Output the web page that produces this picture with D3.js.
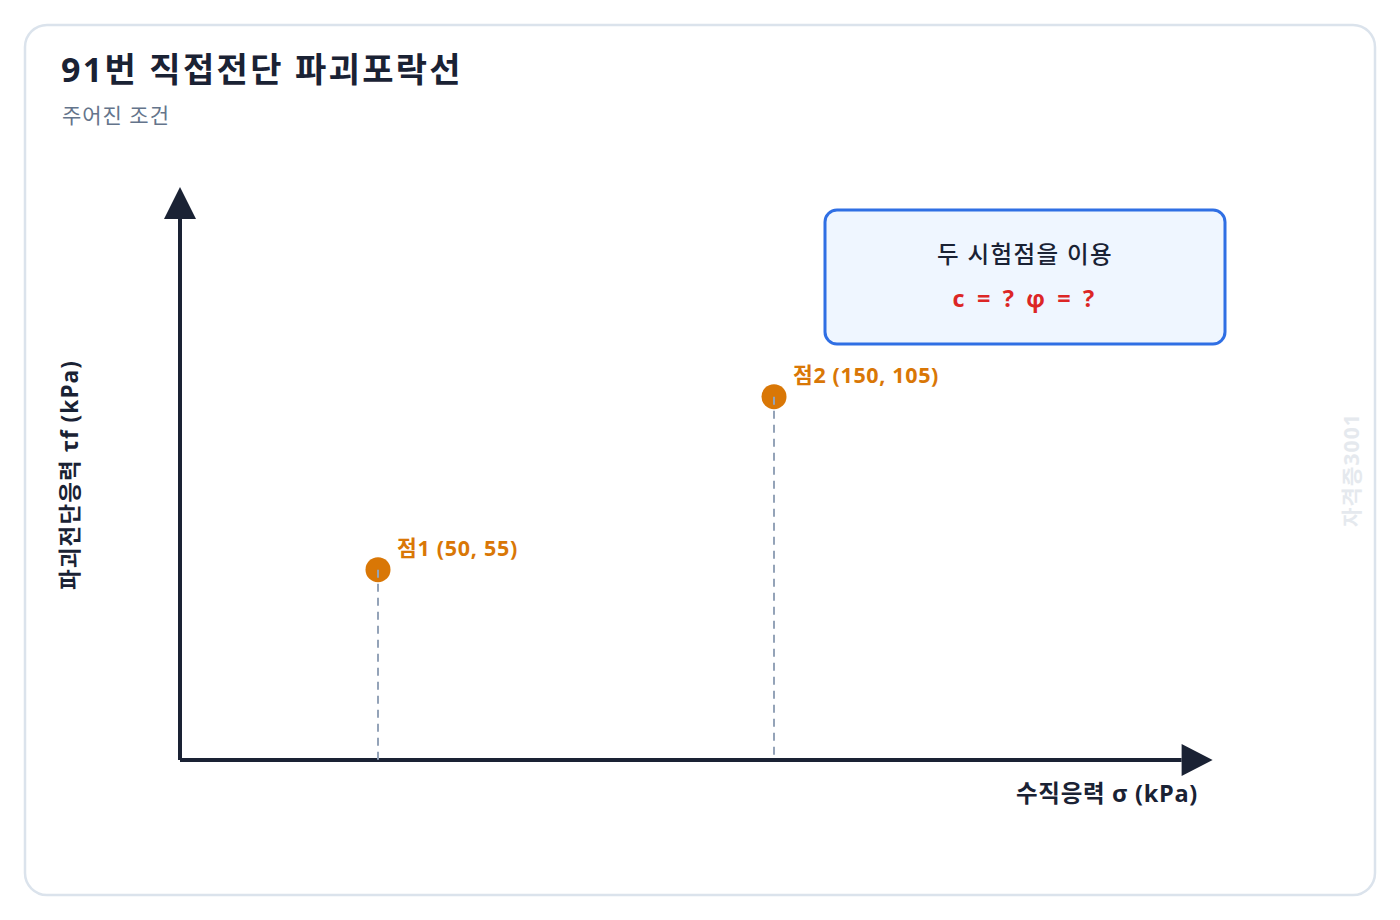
<!DOCTYPE html>
<html>
<head>
<meta charset="utf-8">
<script src="https://cdn.jsdelivr.net/npm/d3@7"></script>
<style>
  html, body { margin: 0; padding: 0; background: #fff; }
  svg { display: block; }
</style>
</head>
<body>
<div id="chart"></div>
<script>
// ── Data ─────────────────────────────────────────────────────────────────────
const pointNames  = ['점1', '점2'];
const sigmaValues = [50, 150];   // 수직응력 σ (kPa)
const tauValues   = [55, 105];   // 파괴전단응력 τf (kPa)

const titleText    = '91번 직접전단 파괴포락선';
const subtitleText = '주어진 조건';
const xLabelText   = '수직응력 σ (kPa)';
const yLabelText   = '파괴전단응력 τf (kPa)';
const boxLines     = ['두 시험점을 이용', 'c = ? φ = ?'];
const watermark    = '자격증3001';

// ── Layout ───────────────────────────────────────────────────────────────────
const W = 1400, H = 920;
const FONT = '"Open Sans", "Noto Sans CJK KR", sans-serif';
const INK = '#1a2234';
const ORANGE = '#d97706';

const svg = d3.select('#chart').append('svg')
  .attr('width', W).attr('height', H);

// stretch a text's letter spacing so it spans roughly the wanted width
function fit(sel, target) {
  const node = sel.node();
  const n = node.textContent.length;
  const w = node.getComputedTextLength();
  if (n > 1) sel.attr('letter-spacing', ((target - w) / n).toFixed(2));
  return sel;
}

// card
svg.append('rect')
  .attr('x', 25).attr('y', 25).attr('width', 1350).attr('height', 870)
  .attr('rx', 22).attr('fill', '#fff')
  .attr('stroke', '#dbe3ec').attr('stroke-width', 2.5);

fit(svg.append('text')
  .attr('x', 61).attr('y', 82)
  .attr('font-family', FONT).attr('font-size', 34).attr('font-weight', 700)
  .attr('fill', INK).text(titleText), 402);

fit(svg.append('text')
  .attr('x', 62).attr('y', 123)
  .attr('font-family', FONT).attr('font-size', 21)
  .attr('fill', '#64748b').text(subtitleText), 108);

// ── Scales ───────────────────────────────────────────────────────────────────
const x = d3.scaleLinear().domain([0, 260]).range([180, 180 + 260 * 3.96]);
const y = d3.scaleLinear().domain([0, 165]).range([760, 760 - 165 * 3.46]);

const [x0, x1] = x.range();
const [y0, y1] = y.range();

// axes
svg.append('line')
  .attr('x1', x0).attr('y1', y0).attr('x2', x0).attr('y2', y1 + 30)
  .attr('stroke', INK).attr('stroke-width', 4);
svg.append('path')
  .attr('d', `M${x0},${y1 - 2} L${x0 - 16},${y1 + 30} L${x0 + 16},${y1 + 30} Z`)
  .attr('fill', INK);

svg.append('line')
  .attr('x1', x0).attr('y1', y0).attr('x2', x1 - 28).attr('y2', y0)
  .attr('stroke', INK).attr('stroke-width', 4);
svg.append('path')
  .attr('d', `M${x1 + 3},${y0} L${x1 - 28},${y0 - 16} L${x1 - 28},${y0 + 16} Z`)
  .attr('fill', INK);

// axis labels
fit(svg.append('text')
  .attr('x', 1198).attr('y', 802)
  .attr('text-anchor', 'end')
  .attr('font-family', FONT).attr('font-size', 23.5).attr('font-weight', 700)
  .attr('fill', INK).text(xLabelText), 182);

fit(svg.append('text')
  .attr('transform', 'translate(78, 475) rotate(-90)')
  .attr('text-anchor', 'middle')
  .attr('font-family', FONT).attr('font-size', 22.5).attr('font-weight', 700)
  .attr('fill', INK).text(yLabelText), 230);

// ── Points ───────────────────────────────────────────────────────────────────
const pts = pointNames.map((n, i) => ({ name: n, s: sigmaValues[i], t: tauValues[i] }));
const labelW = [121, 146];

const g = svg.append('g');
pts.forEach((d, i) => {
  g.append('circle')
    .attr('cx', x(d.s)).attr('cy', y(d.t)).attr('r', 12.5)
    .attr('fill', ORANGE);
  g.append('line')
    .attr('x1', x(d.s)).attr('y1', y(d.t)).attr('x2', x(d.s)).attr('y2', y0)
    .attr('stroke', '#94a3b8').attr('stroke-width', 2)
    .attr('stroke-dasharray', '8,6');
  fit(g.append('text')
    .attr('x', x(d.s) + 19).attr('y', y(d.t) - 14)
    .attr('font-family', FONT).attr('font-size', 21.5).attr('font-weight', 700)
    .attr('fill', ORANGE)
    .text(`${d.name} (${d.s}, ${d.t})`), labelW[i]);
});

// ── Info box ─────────────────────────────────────────────────────────────────
svg.append('rect')
  .attr('x', 825).attr('y', 210).attr('width', 400).attr('height', 134)
  .attr('rx', 12).attr('fill', '#eff6ff')
  .attr('stroke', '#2f6fe4').attr('stroke-width', 3);

fit(svg.append('text')
  .attr('x', 1025).attr('y', 263).attr('text-anchor', 'middle')
  .attr('font-family', FONT).attr('font-size', 23.5).attr('font-weight', 500)
  .attr('fill', INK).text(boxLines[0]), 176);

fit(svg.append('text')
  .attr('x', 1025).attr('y', 307).attr('text-anchor', 'middle')
  .attr('font-family', FONT).attr('font-size', 23.5).attr('font-weight', 700)
  .attr('fill', '#dc2626').text(boxLines[1]), 145);

// watermark
fit(svg.append('text')
  .attr('transform', 'translate(1359, 470) rotate(-90)')
  .attr('text-anchor', 'middle')
  .attr('font-family', FONT).attr('font-size', 21).attr('font-weight', 700)
  .attr('fill', '#e5e9ee').text(watermark), 114);
</script>
</body>
</html>
